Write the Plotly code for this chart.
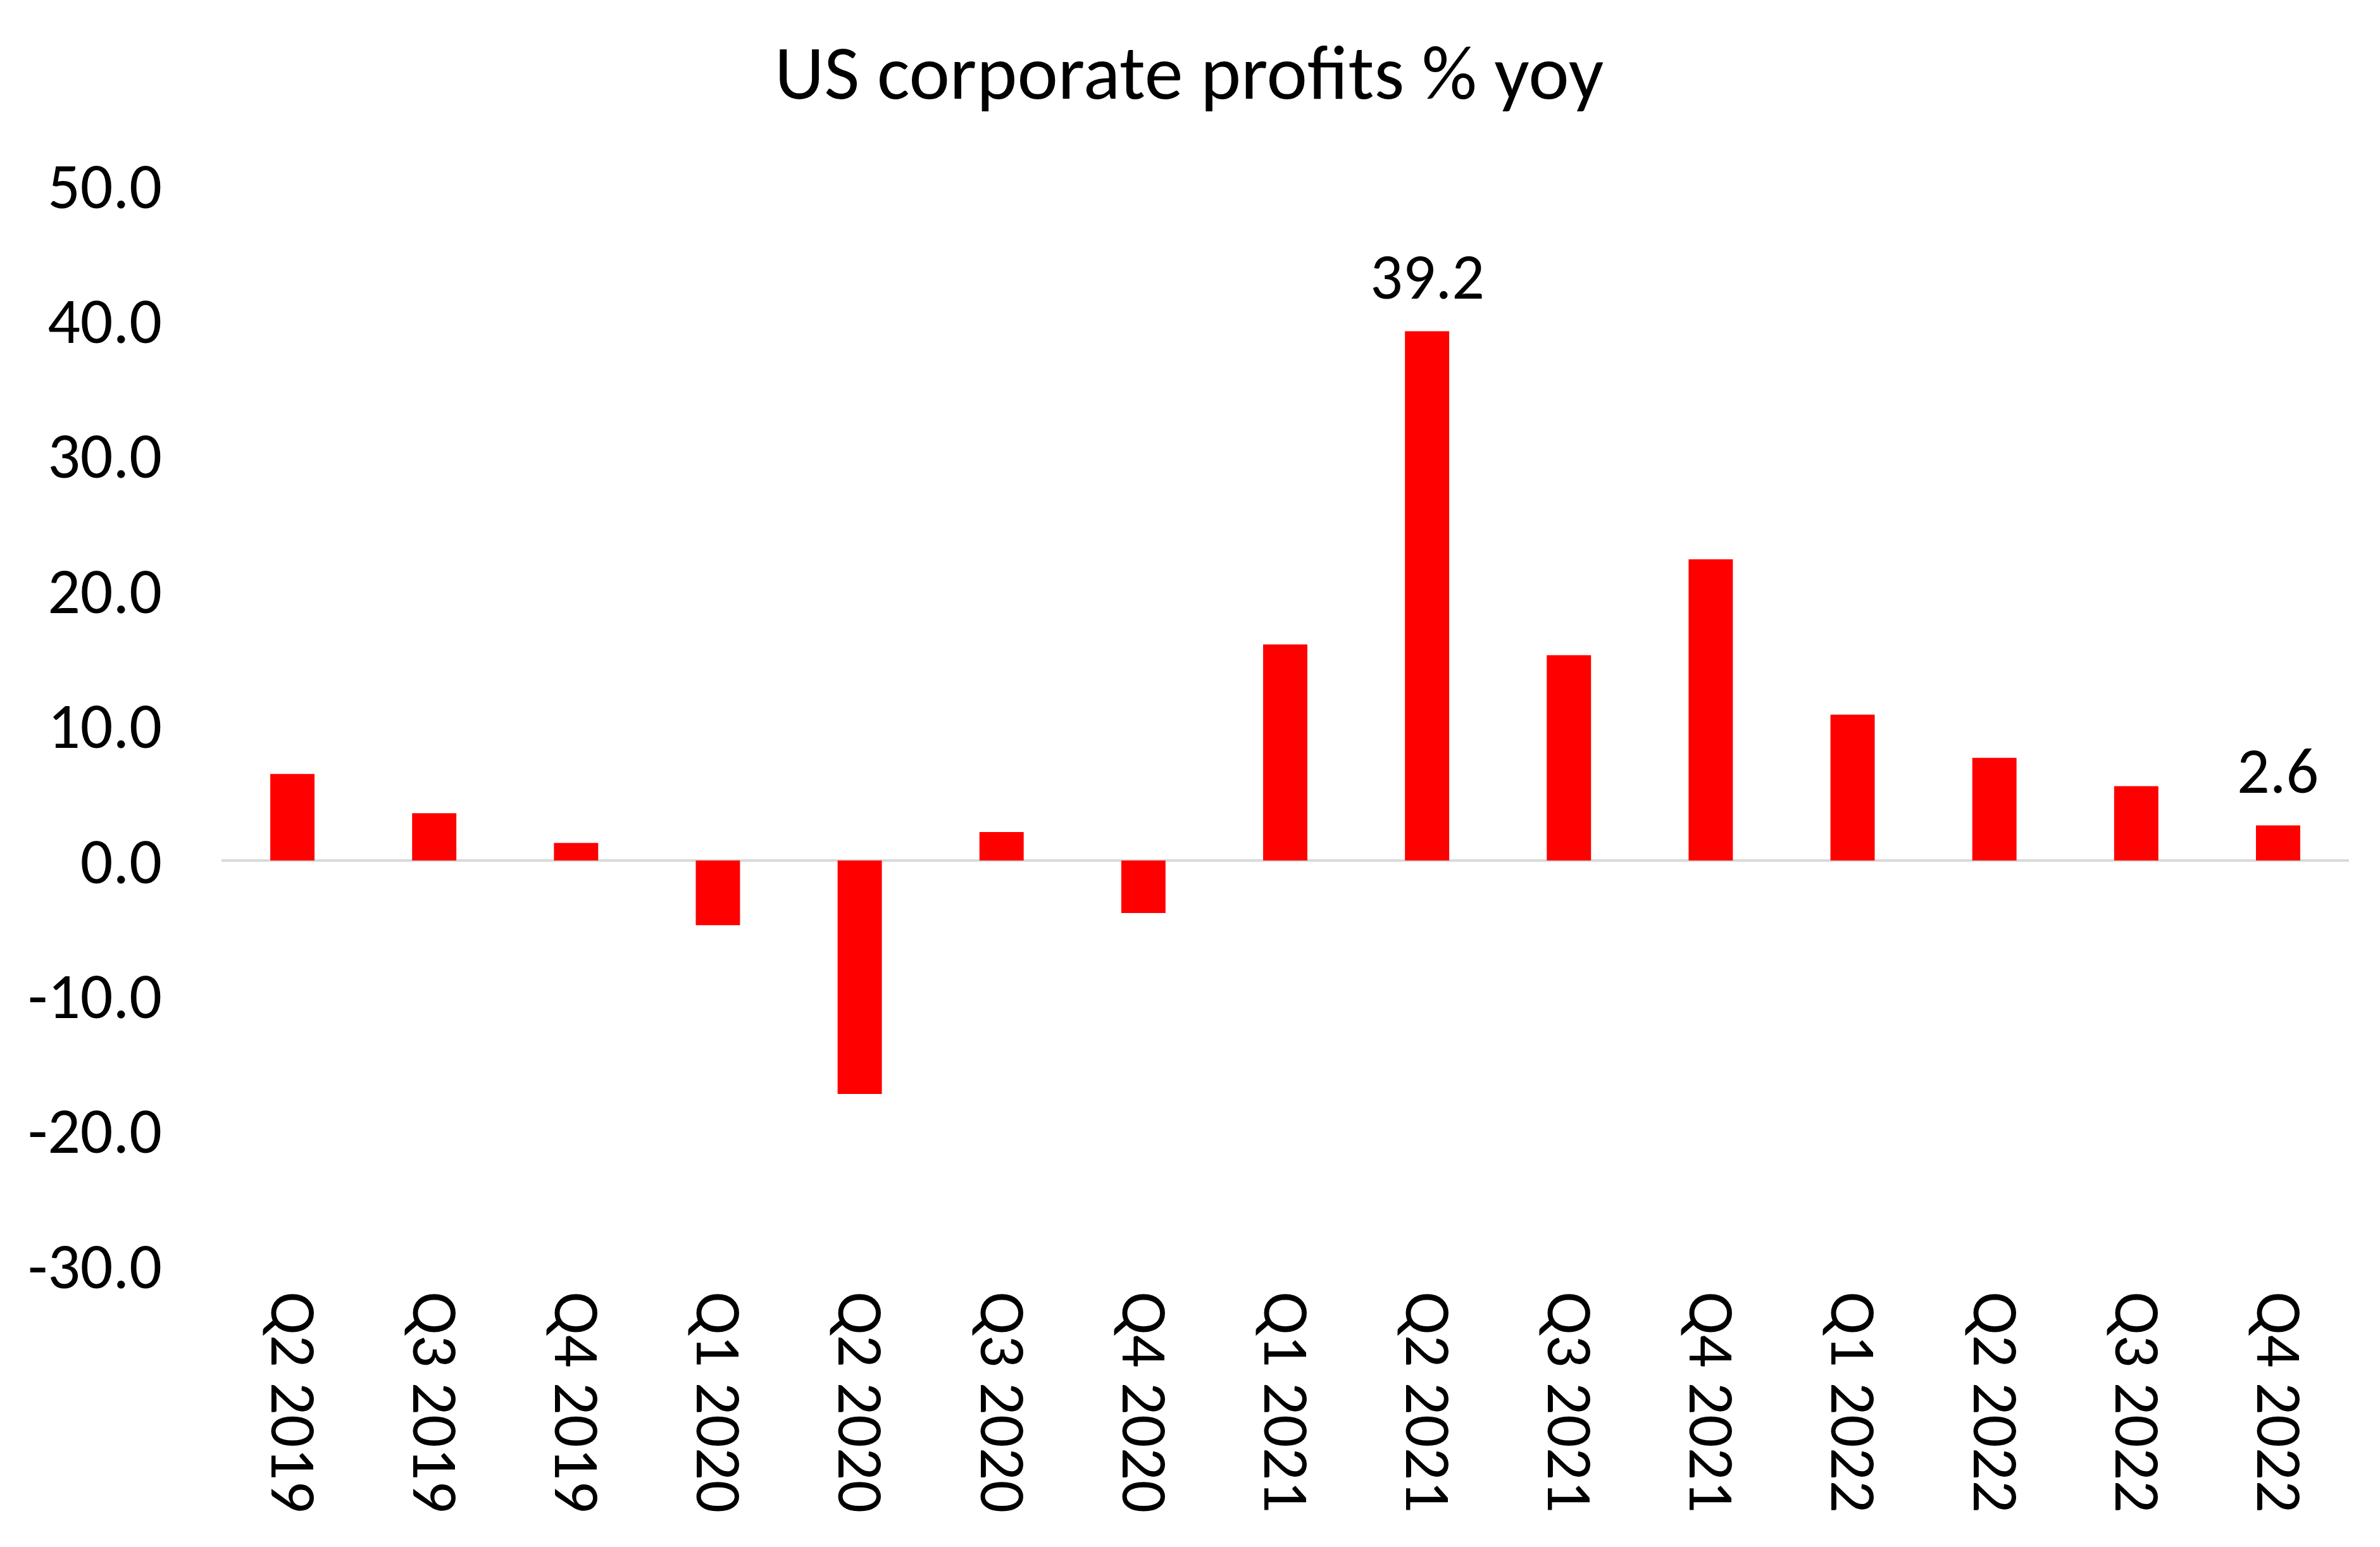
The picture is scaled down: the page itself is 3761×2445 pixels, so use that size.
import plotly.graph_objects as go

quarters = ["Q2 2019", "Q3 2019", "Q4 2019", "Q1 2020", "Q2 2020", "Q3 2020", "Q4 2020",
            "Q1 2021", "Q2 2021", "Q3 2021", "Q4 2021", "Q1 2022", "Q2 2022", "Q3 2022", "Q4 2022"]
profits_yoy = [6.4, 3.5, 1.3, -4.8, -17.3, 2.1, -3.9, 16.0, 39.2, 15.2, 22.3, 10.8, 7.6, 5.5, 2.6]
labelled_quarters = ["Q2 2021", "Q4 2022"]
y_ticks = [-30, -20, -10, 0, 10, 20, 30, 40, 50]
y_tick_labels = ["-30.0", "-20.0", "-10.0", "0.0", "10.0", "20.0", "30.0", "40.0", "50.0"]

FONT = "Carlito, Calibri, 'Open Sans', sans-serif"

fig = go.Figure(go.Bar(
    x=quarters, y=profits_yoy,
    marker=dict(color="#FF0000", line=dict(width=0)),
))

for q in labelled_quarters:
    v = profits_yoy[quarters.index(q)]
    fig.add_annotation(x=q, y=v, xref="x", yref="y", text=f"{v:.1f}",
                       showarrow=False, xanchor="center", yanchor="bottom", yshift=22,
                       font=dict(family=FONT, size=102, color="#000000"))

fig.update_layout(
    width=3761, height=2445,
    margin=dict(l=342, r=57, t=284.5, b=452.5, pad=0),
    paper_bgcolor="white", plot_bgcolor="white",
    bargap=0.688,
    showlegend=False,
    title=dict(text="US corporate profits % yoy", x=0.4975, xanchor="center",
               y=0.957, yanchor="middle",
               font=dict(family=FONT, size=122, color="#000000")),
    font=dict(family=FONT, color="#000000"),
)
fig.update_xaxes(
    type="category", showgrid=False, showline=False, zeroline=False,
    tickangle=90, ticks="", ticklen=0, ticklabelstandoff=40,
    tickfont=dict(family=FONT, size=102, color="#000000"),
    automargin=False,
)
fig.update_yaxes(
    range=[-30, 50], tickvals=y_ticks, ticktext=y_tick_labels,
    showgrid=False, showline=False, zeroline=True, zerolinecolor="#D9D9D9", zerolinewidth=3.5,
    ticks="", ticklabelstandoff=93,
    tickfont=dict(family=FONT, size=102, color="#000000"),
    automargin=False,
)
fig.write_html("out.html")
